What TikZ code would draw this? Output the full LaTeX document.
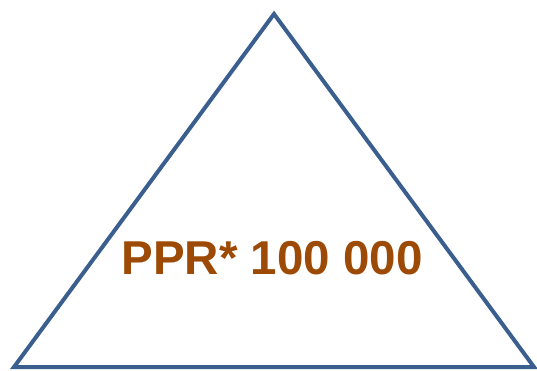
\documentclass[tikz,border=0pt]{standalone}
\usepackage{fontspec}
\setmainfont{Liberation Sans}
\usetikzlibrary{positioning}
\definecolor{edgeblue}{HTML}{3A5F8F}
\definecolor{rust}{HTML}{9C4A06}

\begin{document}
\begin{tikzpicture}[x=1pt,y=-1pt,
  side/.style={draw=edgeblue,line width=4pt,line join=miter},
  label/.style={text=rust,font=\fontsize{47.5}{53}\selectfont\bfseries,anchor=base}]
\useasboundingbox (0,0) rectangle (537,370);
\coordinate (top) at (274,14);
\coordinate (left) at (14,367);
\coordinate (right) at (534,367);
\draw[side] (top)--(right)--(left)--cycle;
\node[label] (ppr) at (272,274) {PPR* 100 000};
\end{tikzpicture}
\end{document}
